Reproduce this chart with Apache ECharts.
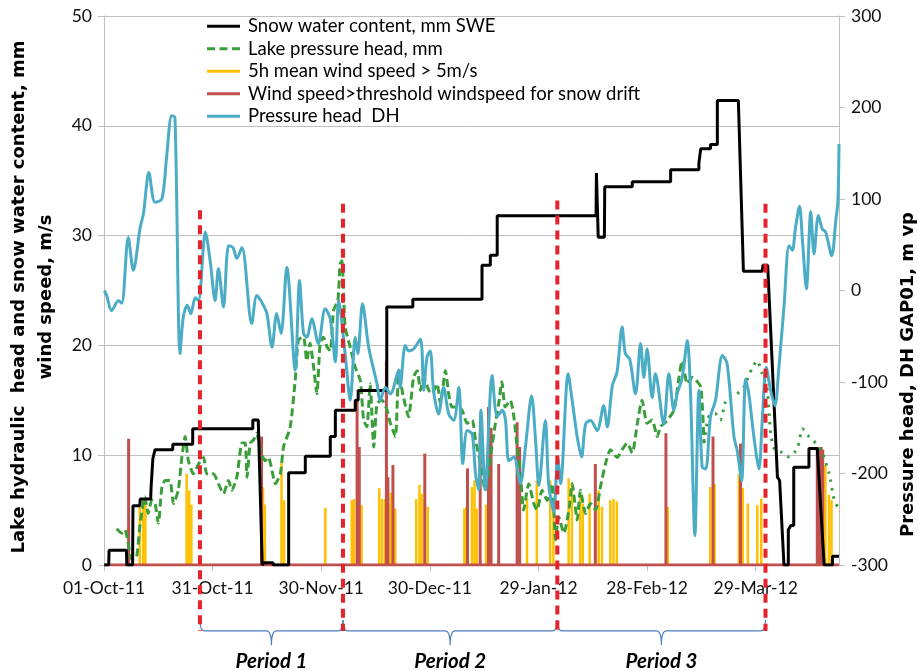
<!DOCTYPE html>
<html><head><meta charset="utf-8">
<script src="https://cdn.jsdelivr.net/npm/echarts@6/dist/echarts.min.js"></script>
<style>html,body{margin:0;padding:0;background:#fff}#c{width:918px;height:671px}</style>
</head><body><div id="c"></div>
<script>
// x values are days since 01-Oct-2011
const xTickLabels = ['01-Oct-11','31-Oct-11','30-Nov-11','30-Dec-11','29-Jan-12','28-Feb-12','29-Mar-12'];

const sweDays = [0.1,1.3,1.4,6.2,6.3,7.9,8.0,9.9,10.0,12.9,13.0,13.4,13.5,14.0,14.1,19.0,19.0,24.5,24.5,41.1,41.1,42.6,43.7,44.2,44.2,46.7,46.7,51.0,51.0,55.6,55.6,62.5,62.5,63.9,63.9,69.4,69.4,70.2,70.2,78.1,78.1,85.3,85.3,104.4,104.4,106.7,106.7,108.6,108.6,135.9,136.0,136.5,138.2,138.3,145.9,145.9,156.5,156.5,164.3,164.3,164.8,164.8,167.5,167.5,169.4,169.4,175.2,176.6,181.8,182.0,183.3,186.0,186.6,187.8,189.0,189.0,189.7,190.5,190.5,194.7,194.7,197.0,198.9,201.2,201.2,203.0];
const sweVals = [0,0,1.35,1.35,0,0,5.4,5.4,6.0,6.0,7.1,7.1,9.7,9.7,10.5,10.5,11.0,11.0,12.4,12.4,13.2,13.2,0,0,0.2,0.2,0,0,8.4,8.4,9.9,9.9,11.7,11.7,14.1,14.1,15.0,15.0,15.9,15.9,23.5,23.5,24.2,24.2,27.3,27.3,28.2,28.2,31.8,31.8,35.7,29.85,29.85,34.45,34.45,34.9,34.9,36.0,36.0,36.6,36.6,37.9,37.9,38.3,38.3,42.3,42.3,26.75,26.75,27.3,27.3,8.0,7.7,0,0,3.2,3.6,3.6,8.9,8.9,10.6,10.6,0,0,0.8,0.8];

const lakeDays = [3.5,4.9,5.8,7.7,9.0,10.0,11.3,12.2,13.2,14.1,15.0,16.0,16.9,18.2,19.2,20.5,21.5,22.4,23.3,24.7,26.1,27.5,28.4,30.2,31.6,33.0,34.4,35.3,36.7,38.1,39.0,39.5,40.4,41.3,42.2,43.1,44.5,45.4,46.4,47.3,48.7,49.6,51.4,52.8,53.7,55.1,56.0,56.9,57.9,58.8,59.7,60.6,61.6,62.5,63.4,64.6,65.2,65.7,66.6,68.0,69.4,70.8,71.7,72.6,73.5,74.5,75.4,76.8,78.2,79.1,80.5,81.4,82.7,84.1,85.5,86.5,87.4,88.3,89.7,90.6,92.0,92.9,94.3,95.2,96.1,97.5,98.9,100.3,101.7,102.6,104.0,105.3,106.7,108.1,109.0,109.9,110.8,112.2,113.2,114.1,115.0,115.9,117.3,118.7,119.6,121.0,122.4,123.8,124.7,125.6,127.0,128.4,129.3,130.7,131.6,133.0,134.4,135.8,137.1,138.5,139.9,141.7,143.1,144.5,145.9,147.3,148.6,150.0,151.4,152.8,153.7,155.1,157.4,158.8,159.7,161.1,162.5,164.8,165.7];
const lakeVals = [3.3,2.9,3.2,0.5,0.75,3.8,6.2,4.7,5.9,5.6,3.8,7.1,7.7,7.7,5.6,6.8,9.8,11.7,9.5,8.3,9.2,9.8,8.3,8.3,7.4,6.5,7.7,6.8,8.0,11.1,11.1,8.0,11.1,11.4,12.0,10.5,9.5,9.8,8.6,7.4,8.3,10.8,12.5,16.8,20.5,20.75,18.6,20.2,18.0,15.6,20.2,20.75,19.85,19.5,23.2,24.1,27.4,27.7,21.7,19.85,18.0,16.8,13.2,12.6,16.5,10.75,14.7,15.0,14.1,12.9,11.7,17.4,15.3,13.5,17.1,17.7,15.9,17.1,15.9,15.6,16.5,14.7,17.7,15.6,14.4,14.4,14.1,12.9,13.2,11.4,9.2,6.8,9.8,12.9,14.7,16.7,14.4,15.0,13.5,10.75,8.3,5.0,7.4,5.6,5.0,6.8,5.9,7.4,2.3,4.4,2.9,5.0,7.4,4.1,6.8,4.7,5.6,5.0,7.1,9.2,10.5,9.8,10.5,11.1,10.2,12.9,15.0,12.9,13.2,11.7,12.6,13.0,14.1,17.1,18.6,16.5,17.1,16.2,11.1];
const lakeDotDays = [165.7,167.0,168.8,170.2,171.6,172.6,174.9,176.7,179.1,180.4,181.8,183.2,184.1,185.1,186.9,189.2,191.5,192.9,194.7,196.6,198.4,200.3,201.7,202.8];
const lakeDotVals = [11.1,13.5,13.8,13.2,14.8,15.3,15.6,16.2,18.0,18.6,17.4,15.9,12.0,10.6,10.3,9.85,10.6,12.4,11.7,11.1,10.2,8.3,5.9,5.2];

const windDays = [9.95,10.9,11.5,22.9,23.6,24.2,44.0,44.5,49.1,49.8,61.2,68.5,69.1,71.2,76.1,76.9,77.7,78.8,79.3,80.5,86.3,87.2,87.8,88.7,89.5,99.6,100.1,101.7,102.4,103.0,105.6,116.9,119.6,123.3,124.2,128.4,129.3,131.6,132.3,134.2,136.7,137.6,139.9,140.8,141.7,155.8,167.5,168.7,175.4,176.5,177.9,180.5,181.6,199.3,200.3,201.0];
const windVals = [5.3,6.05,6.0,8.3,6.8,5.5,7.1,5.5,9.4,5.9,5.2,5.9,6.0,5.45,7.0,6.0,6.0,5.6,6.6,5.15,6.0,7.3,6.5,5.9,5.3,5.15,5.3,7.1,7.7,5.15,5.5,6.05,7.7,7.7,5.0,7.9,7.4,6.5,5.6,6.5,6.8,5.3,5.9,6.0,5.8,5.3,7.1,7.4,8.3,7.0,5.6,5.45,6.05,9.1,6.4,5.9];

const driftDays = [6.8,43.5,69.9,70.5,78.0,78.4,79.8,88.6,100.4,103.9,106.2,106.9,109.0,114.1,114.8,135.7,155.2,168.2,175.8,197.0,197.5,198.1,198.5];
const driftVals = [11.5,11.7,15.0,10.75,18.6,8.0,9.1,10.15,8.8,12.0,14.4,12.5,9.2,13.0,10.75,9.2,12.0,11.7,11.06,10.75,10.75,10.75,10.5];
const driftBaseDays = [0, 203];
const driftBaseVals = [0, 0];

const dhDays = [0.1,0.75,2.1,4.0,4.9,6.7,8.1,10.0,10.9,12.4,14.1,16.0,17.3,18.7,19.6,21.0,21.9,23.0,24.0,25.2,26.1,28.0,29.3,30.7,31.6,33.0,34.4,35.6,36.7,38.1,40.8,42.2,43.6,45.0,46.4,47.7,48.9,50.5,52.8,54.0,55.1,56.0,57.4,59.2,61.1,62.5,63.9,64.8,66.6,68.0,69.4,70.1,71.4,73.1,75.4,76.3,77.7,79.1,81.4,81.8,83.2,84.1,85.5,87.4,88.3,89.2,90.1,91.0,92.4,93.8,95.2,96.6,98.0,99.1,100.3,101.7,102.6,103.5,104.1,105.3,107.2,108.6,110.0,110.9,111.8,113.2,115.0,116.4,118.1,119.2,120.1,121.9,122.8,124.2,125.3,126.1,128.2,129.3,130.7,131.9,133.0,134.4,136.2,138.0,139.0,140.4,141.7,143.1,144.0,145.2,146.8,148.2,149.1,150.0,151.4,152.3,154.6,156.0,157.4,158.3,159.7,161.1,162.0,163.2,164.3,165.2,166.2,167.5,168.9,170.8,172.1,174.0,174.9,176.1,177.2,178.1,179.5,180.9,181.8,182.9,184.1,185.3,186.4,187.8,189.2,190.1,191.0,192.1,192.9,194.0,195.2,196.1,197.3,198.4,199.3,201.0,202.1,202.7,203.0];
const dhVals = [0,-5.5,-22,-11,-14,58,22,69,84,129,96.5,100,146,191,189,-69,-29,-16,-25.5,-8,-11,64,33,-11,24,-18,49,47,35,47,-36,-5.5,-13,-25.5,-62,-25,-47,25.5,-87,11,-47,-51,-31,-58,-20,-31,-78,-11,-69,-120,-51,-69,-14.5,-62,-102,-120,-106,-113,-87,-106,-60,-66,-64,-53,-109,-73,-66,-109,-135,-106,-135,-142,-106,-189,-153,-157,-200,-218,-131,-218,-93,-138,-131,-142,-186,-182,-211,-171,-115,-164,-213,-142,-211,-242,-182,-211,-91,-120,-160,-182,-146,-142,-153,-126,-149,-104,-89,-40,-69,-75,-113,-58,-95,-64,-117,-91,-146,-91,-131,-113,-95,-55,-113,-268,-109,-193,-195,-138,-120,-71,-80,-160,-175,-208,-97,-113,-160,-195,-142,-84,-109,-126,-84,-18,49,44,69,92,55,2,86,40,82,67,64,38,76,98,160];

const periodDays = [26.5, 66.0, 125.2, 182.7];
const periodTops = [32.3, 32.9, 33.2, 32.9];
const periodLabels = ['Period 1','Period 2','Period 3'];

// levels (left-axis units) below the plot used for the period annotations
const periodLineBottom = -6.0;
const braceEndLevel = -5.0;
const braceLineLevel = -6.0;
const braceTipLevel = -7.3;
const periodLabelLevel = -8.8;

const zip = (a, b) => a.map((d, i) => [d, b[i]]);

const N_SWE = 'Snow water content, mm SWE';
const N_LAKE = 'Lake pressure head, mm';
const N_WIND = '5h mean wind speed > 5m/s';
const N_DRIFT = 'Wind speed>threshold windspeed for snow drift';
const N_DH = 'Pressure head  DH';

const chart = echarts.init(document.getElementById('c'), null, {renderer: 'canvas'});
const grey = '#bfbfbf';
const tickFont = {fontFamily: 'Lato', fontSize: 17.5, color: '#111'};

chart.setOption({
  animation: false,
  backgroundColor: '#fff',
  grid: {left: 104, right: 79, top: 16, bottom: 106, containLabel: false, outerBoundsMode: 'none'},
  legend: {
    orient: 'vertical', left: 202, top: 10, itemWidth: 33, itemHeight: 3, itemGap: 0,
    selectedMode: false,
    textStyle: {fontFamily: 'Lato', fontSize: 18.5, color: '#000', lineHeight: 22.5, padding: [0, 0, 0, 3]},
    data: [
      {name: N_SWE, icon: 'rect'},
      {name: N_LAKE, icon: 'path://M0,0h8v3h-8z M12.5,0h8v3h-8z M25,0h8v3h-8z'},
      {name: N_WIND, icon: 'rect'},
      {name: N_DRIFT, icon: 'rect'},
      {name: N_DH, icon: 'rect'}
    ]
  },
  xAxis: {
    type: 'value', min: 0, max: 203, interval: 30,
    axisLine: {show: true, lineStyle: {color: grey, width: 1}},
    axisTick: {show: true, length: 6, inside: false, lineStyle: {color: grey}},
    splitLine: {show: false},
    axisLabel: Object.assign({margin: 14, showMaxLabel: false,
      formatter: v => (Math.abs(v % 30) < 1e-6 && xTickLabels[Math.round(v / 30)]) || ''}, tickFont)
  },
  yAxis: [
    {
      type: 'value', min: 0, max: 50, interval: 10, position: 'left',
      axisLine: {show: true, lineStyle: {color: grey}},
      axisTick: {show: true, length: 6, lineStyle: {color: grey}},
      splitLine: {show: true, lineStyle: {color: grey, width: 1}},
      axisLabel: Object.assign({margin: 12}, tickFont),
      name: 'Lake hydraulic  head and snow water content, mm\nwind speed, m/s',
      nameLocation: 'middle', nameRotate: 90, nameGap: 44, nameMoveOverlap: false,
      nameTextStyle: {fontFamily: 'DejaVu Sans', fontWeight: 'bold', fontSize: 18, color: '#000', lineHeight: 27, align: 'center', padding: [0, 13, 0, 0]}
    },
    {
      type: 'value', min: -300, max: 300, interval: 100, position: 'right',
      axisLine: {show: true, lineStyle: {color: grey}},
      axisTick: {show: true, length: 6, lineStyle: {color: grey}},
      splitLine: {show: false},
      axisLabel: Object.assign({margin: 12}, tickFont),
      name: 'Pressure head, DH GAP01, m vp',
      nameLocation: 'middle', nameRotate: 90, nameGap: 60, nameMoveOverlap: false,
      nameTextStyle: {fontFamily: 'DejaVu Sans', fontWeight: 'bold', fontSize: 18, color: '#000', padding: [0, 168, 0, 0]}
    }
  ],
  series: [
    {
      name: N_WIND, type: 'bar', xAxisIndex: 0, yAxisIndex: 0, barWidth: 2.5, barGap: '-100%',
      itemStyle: {color: '#ffc000'}, data: zip(windDays, windVals), z: 2
    },
    {
      name: N_DRIFT, type: 'bar', xAxisIndex: 0, yAxisIndex: 0, barWidth: 3, barGap: '-100%',
      itemStyle: {color: '#c0504d'}, data: zip(driftDays, driftVals), z: 3
    },
    {
      name: N_DRIFT, type: 'line', xAxisIndex: 0, yAxisIndex: 0, showSymbol: false, symbol: 'none',
      color: '#c0504d', lineStyle: {color: '#c0504d', width: 3}, data: zip(driftBaseDays, driftBaseVals), z: 3
    },
    {
      name: N_LAKE, type: 'line', xAxisIndex: 0, yAxisIndex: 0, showSymbol: false, symbol: 'none', smooth: 0.2,
      color: '#3a9f3a', lineStyle: {color: '#3a9f3a', width: 3, type: [8, 4]}, data: zip(lakeDays, lakeVals), z: 4
    },
    {
      name: 'lakeDotted', type: 'line', xAxisIndex: 0, yAxisIndex: 0, showSymbol: false, symbol: 'none', smooth: 0.2,
      color: '#3a9f3a', lineStyle: {color: '#3a9f3a', width: 3, type: [2.5, 6]}, data: zip(lakeDotDays, lakeDotVals), z: 4
    },
    {
      name: N_SWE, type: 'line', xAxisIndex: 0, yAxisIndex: 0, showSymbol: false, symbol: 'none',
      color: '#000', lineStyle: {color: '#000', width: 3}, data: zip(sweDays, sweVals), z: 5
    },
    {
      name: N_DH, type: 'line', xAxisIndex: 0, yAxisIndex: 1, showSymbol: false, symbol: 'none', smooth: 0.3,
      color: '#4bacc6', lineStyle: {color: '#4bacc6', width: 3}, data: zip(dhDays, dhVals), z: 5
    },
    {
      name: 'periodLines', type: 'custom', coordinateSystem: 'cartesian2d', xAxisIndex: 0, yAxisIndex: 0,
      clip: false, silent: true, z: 10,
      data: zip(periodDays, periodTops),
      renderItem: (p, api) => {
        const a = api.coord([api.value(0), api.value(1)]);
        const b = api.coord([api.value(0), periodLineBottom]);
        return {type: 'line', shape: {x1: a[0], y1: a[1], x2: b[0], y2: b[1]},
          style: {stroke: '#e8222a', lineWidth: 4, lineDash: [9, 6], fill: null}};
      }
    },
    {
      name: 'periodBraces', type: 'custom', coordinateSystem: 'cartesian2d', xAxisIndex: 0, yAxisIndex: 0,
      clip: false, silent: true, z: 9,
      data: periodLabels.map((l, i) => [periodDays[i], periodDays[i + 1]]),
      renderItem: (p, api) => {
        const pa = api.coord([api.value(0), braceEndLevel]);
        const pb = api.coord([api.value(1), braceEndLevel]);
        const yL = api.coord([api.value(0), braceLineLevel])[1];
        const yT = api.coord([api.value(0), braceTipLevel])[1];
        const yTxt = api.coord([api.value(0), periodLabelLevel])[1];
        const xa = pa[0], xb = pb[0], ya = pa[1], xc = (xa + xb) / 2, r = 5;
        const d = 'M' + xa + ',' + ya + ' Q' + xa + ',' + yL + ' ' + (xa + r) + ',' + yL +
          ' L' + (xc - r) + ',' + yL + ' Q' + xc + ',' + yL + ' ' + xc + ',' + yT +
          ' M' + xc + ',' + yT + ' Q' + xc + ',' + yL + ' ' + (xc + r) + ',' + yL +
          ' L' + (xb - r) + ',' + yL + ' Q' + xb + ',' + yL + ' ' + xb + ',' + ya;
        return {type: 'group', children: [
          {type: 'path', shape: {pathData: d}, style: {stroke: '#4a7ebb', lineWidth: 1.2, fill: null}},
          {type: 'text', style: {text: periodLabels[p.dataIndex], x: xc, y: yTxt, align: 'center', verticalAlign: 'middle',
            textAlign: 'center', textVerticalAlign: 'middle',
            font: 'italic bold 20.5px Lato', fill: '#000'}}
        ]};
      }
    }
  ]
});
</script>
</body></html>
